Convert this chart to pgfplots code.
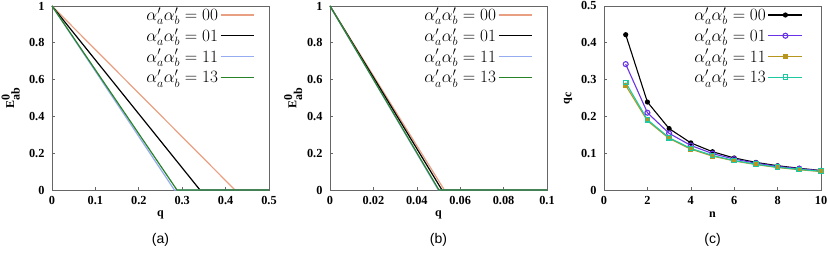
\documentclass[border=0pt]{standalone}
\usepackage{pgfplots}
\pgfplotsset{compat=1.18}
\usepackage{fontspec}
\setmainfont{Liberation Serif}
\newfontfamily\capfont{Liberation Sans}
\definecolor{cA}{RGB}{233,160,130}
\definecolor{cB}{RGB}{0,0,0}
\definecolor{cC}{RGB}{150,172,240}
\definecolor{cD}{RGB}{40,130,40}
\definecolor{dA}{RGB}{0,0,0}
\definecolor{dB}{RGB}{105,50,230}
\definecolor{dC}{RGB}{184,150,30}
\definecolor{dD}{RGB}{30,200,160}
\pgfplotsset{
 myaxis/.style={
  scale only axis, width=217pt, height=184pt,
  axis line style={black!60, line width=0.8pt},
  tick style={black!60, line width=0.6pt},
  tick align=inside, major tick length=3pt,
  xtick pos=bottom, ytick pos=left,
  ticklabel style={font=\bfseries\fontsize{12.3}{14}\selectfont},
  xticklabel style={yshift=-3pt},
  yticklabel style={xshift=-4pt},
  /pgf/number format/assume math mode=true,
  label style={font=\bfseries\fontsize{12}{14}\selectfont},
  xlabel style={at={(axis description cs:0.5,-0.135)}, anchor=center},
  scaled ticks=false,
  legend style={draw=none, fill=none, at={(0.935,1.005)}, anchor=north east,
    font=\fontsize{17}{19}\selectfont, row sep=2.3pt, inner sep=0.5pt},
  legend cell align=right, legend plot pos=right,
  clip=false, anchor=south west,
 },
 lineleg/.style={legend image code/.code={\draw[##1] (0pt,0pt) -- (33pt,0pt);}},
 markleg/.style={legend image code/.code={\draw[mark repeat=2,mark phase=2,##1] plot coordinates {(0pt,0pt) (17pt,0pt) (34pt,0pt)};}},
}
\begin{document}
\begin{tikzpicture}
\useasboundingbox (0,0) rectangle (830pt,256pt);
% (a)
\begin{axis}[myaxis, lineleg, at={(52pt,66pt)},
  xmin=0, xmax=0.5, ymin=0, ymax=1,
  xtick={0,0.1,0.2,0.3,0.4,0.5}, ytick={0,0.2,0.4,0.6,0.8,1},
  xticklabel style={/pgf/number format/fixed},
  xlabel={q}, ylabel={E$^{\textbf{0}}_{\textbf{ab}}$},
  ylabel style={at={(axis description cs:-0.19,0.5)}, anchor=center}]
\addplot[cA, line width=1.2pt] coordinates {(0,1) (0.4217,0) (0.5,0)};
\addlegendentry{$\alpha'_a\alpha'_b = 00$}
\addplot[cB, line width=1.2pt] coordinates {(0,1) (0.341,0) (0.5,0)};
\addlegendentry{$\alpha'_a\alpha'_b = 01$}
\addplot[cC, line width=1.2pt] coordinates {(0,1) (0.282,0) (0.5,0)};
\addlegendentry{$\alpha'_a\alpha'_b = 11$}
\addplot[cD, line width=1.2pt] coordinates {(0,1) (0.288,0) (0.5,0)};
\addlegendentry{$\alpha'_a\alpha'_b = 13$}
\node[font=\capfont\fontsize{14}{16}\selectfont] at (axis description cs:0.5,-0.27) {(a)};
\end{axis}
% (b)
\begin{axis}[myaxis, lineleg, at={(330pt,66pt)},
  xmin=0, xmax=0.1, ymin=0, ymax=1,
  xtick={0,0.02,0.04,0.06,0.08,0.1}, ytick={0,0.2,0.4,0.6,0.8,1},
  xticklabel style={/pgf/number format/fixed, /pgf/number format/precision=2},
  xlabel={q}, ylabel={E$^{\textbf{0}}_{\textbf{ab}}$},
  ylabel style={at={(axis description cs:-0.17,0.5)}, anchor=center}]
\addplot[cA, line width=1.2pt] coordinates {(0,1) (0.0527,0) (0.1,0)};
\addlegendentry{$\alpha'_a\alpha'_b = 00$}
\addplot[cB, line width=1.2pt] coordinates {(0,1) (0.0516,0) (0.1,0)};
\addlegendentry{$\alpha'_a\alpha'_b = 01$}
\addplot[cC, line width=1.2pt] coordinates {(0,1) (0.0499,0) (0.1,0)};
\addlegendentry{$\alpha'_a\alpha'_b = 11$}
\addplot[cD, line width=1.2pt] coordinates {(0,1) (0.0502,0) (0.1,0)};
\addlegendentry{$\alpha'_a\alpha'_b = 13$}
\node[font=\capfont\fontsize{14}{16}\selectfont] at (axis description cs:0.5,-0.27) {(b)};
\end{axis}
% (c)
\begin{axis}[myaxis, markleg, at={(604pt,66pt)},
  xmin=0, xmax=10, ymin=0, ymax=0.5,
  xtick={0,2,4,6,8,10}, ytick={0,0.1,0.2,0.3,0.4,0.5},
  yticklabel style={/pgf/number format/fixed},
  legend style={at={(0.92,1.005)}},
  xlabel={n}, ylabel={q$_{\textbf{c}}$},
  ylabel style={at={(axis description cs:-0.166,0.5)}, anchor=center}]
\addplot[dA, line width=1.1pt, mark=*, mark size=2pt] coordinates {
(1,0.422) (2,0.239) (3,0.167) (4,0.128) (5,0.104) (6,0.087) (7,0.075) (8,0.066) (9,0.059) (10,0.053)};
\addlegendentry{$\alpha'_a\alpha'_b = 00$}
\addplot[dB, line width=1.1pt, mark=o, mark size=2.5pt] coordinates {
(1,0.342) (2,0.210) (3,0.154) (4,0.121) (5,0.099) (6,0.084) (7,0.073) (8,0.064) (9,0.058) (10,0.052)};
\addlegendentry{$\alpha'_a\alpha'_b = 01$}
\addplot[dC, line width=1.1pt, mark=square*, mark size=2pt] coordinates {
(1,0.284) (2,0.188) (3,0.140) (4,0.111) (5,0.092) (6,0.079) (7,0.069) (8,0.061) (9,0.055) (10,0.050)};
\addlegendentry{$\alpha'_a\alpha'_b = 11$}
\addplot[dD, line width=1.1pt, mark=square, mark size=2.3pt] coordinates {
(1,0.292) (2,0.191) (3,0.142) (4,0.113) (5,0.094) (6,0.080) (7,0.070) (8,0.062) (9,0.056) (10,0.051)};
\addlegendentry{$\alpha'_a\alpha'_b = 13$}
\node[font=\capfont\fontsize{14}{16}\selectfont] at (axis description cs:0.5,-0.27) {(c)};
\end{axis}
\end{tikzpicture}
\end{document}
